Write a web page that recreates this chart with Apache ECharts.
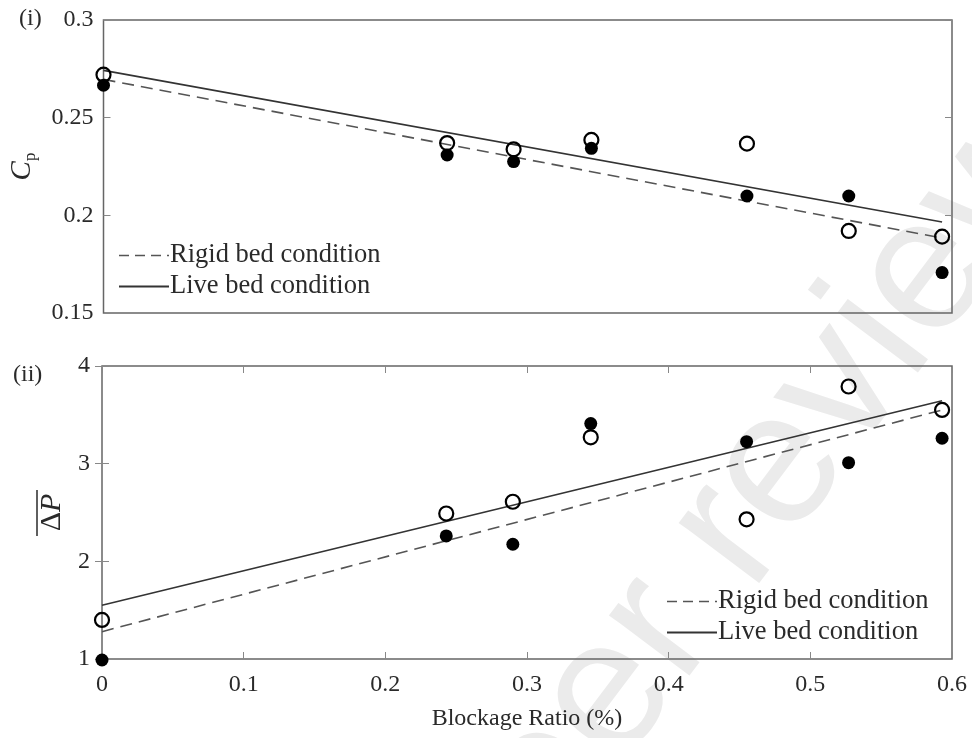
<!DOCTYPE html>
<html>
<head>
<meta charset="utf-8">
<script src="https://cdn.jsdelivr.net/npm/echarts@6/dist/echarts.min.js"></script>
<style>
  html, body { margin: 0; padding: 0; background: #fff; }
  #main { width: 972px; height: 738px; }
</style>
</head>
<body>
<div id="main"></div>
<script>
// blockage ratio (%) of each test
var blockage = [0, 0.243, 0.29, 0.345, 0.455, 0.527, 0.593];

// (i) power coefficient
var cpOpen   = [0.272, 0.237, 0.2338, 0.2386, 0.2367, 0.192, 0.1891];
var cpFilled = [0.2666, 0.2309, 0.2275, 0.2343, 0.2099, 0.2099, 0.1707];
var cpRigidFit = [[0, 0.2696], [0.593, 0.1884]];
var cpLiveFit  = [[0, 0.2742], [0.593, 0.1966]];

// (ii) mean pressure drop
var dpOpen   = [1.40, 2.49, 2.61, 3.27, 2.43, 3.79, 3.55];
var dpFilled = [0.99, 2.26, 2.175, 3.41, 3.225, 3.01, 3.26];
var dpRigidFit = [[0, 1.28], [0.593, 3.55]];
var dpLiveFit  = [[0, 1.55], [0.593, 3.645]];

var RIGID = 'Rigid bed condition';
var LIVE = 'Live bed condition';

var SERIF = 'Liberation Serif, Times New Roman, serif';
var TEXT_COLOR = '#2a2a2a';
var FRAME_COLOR = '#666';
var TICK_COLOR = '#888';

function pairs(xs, ys) {
    var out = [];
    for (var i = 0; i < xs.length; i++) {
        out.push([xs[i], ys[i]]);
    }
    return out;
}

var chartDom = document.getElementById('main');
var myChart = echarts.init(chartDom);

var labelStyle = {
    fontFamily: SERIF,
    fontSize: 24,
    color: TEXT_COLOR
};

function tickAxis(gridIndex, position, showTicks) {
    return {
        type: 'value',
        gridIndex: gridIndex,
        position: position,
        axisLine: { show: false },
        axisTick: { show: showTicks, inside: true, length: 7, lineStyle: { color: TICK_COLOR, width: 1 } },
        axisLabel: { show: false },
        splitLine: { show: false }
    };
}

var xTop = tickAxis(0, 'bottom', false);
xTop.min = 0; xTop.max = 0.6; xTop.interval = 0.1;

var xBottom = tickAxis(1, 'bottom', true);
xBottom.min = 0; xBottom.max = 0.6; xBottom.interval = 0.1;
xBottom.axisLabel = Object.assign({ show: true, margin: 14 }, labelStyle);
xBottom.name = 'Blockage Ratio (%)';
xBottom.nameLocation = 'middle';
xBottom.nameGap = 48;
xBottom.nameTextStyle = labelStyle;

var xBottomMirror = tickAxis(1, 'top', true);
xBottomMirror.min = 0; xBottomMirror.max = 0.6; xBottomMirror.interval = 0.1;

var yCp = tickAxis(0, 'left', true);
yCp.min = 0.15; yCp.max = 0.3; yCp.interval = 0.05;
yCp.axisLabel = Object.assign({ show: true, margin: 10 }, labelStyle);
yCp.name = '{c|C}{p|p}';
yCp.nameLocation = 'middle';
yCp.nameGap = 64;
yCp.nameTextStyle = {
    rich: {
        c: { fontFamily: SERIF, fontStyle: 'italic', fontSize: 29, color: TEXT_COLOR, lineHeight: 34 },
        p: { fontFamily: SERIF, fontSize: 17, color: TEXT_COLOR, verticalAlign: 'bottom', lineHeight: 34 }
    }
};

var yCpMirror = tickAxis(0, 'right', true);
yCpMirror.min = 0.15; yCpMirror.max = 0.3; yCpMirror.interval = 0.05;

var yDp = tickAxis(1, 'left', true);
yDp.min = 1; yDp.max = 4; yDp.interval = 1;
yDp.axisLabel = Object.assign({ show: true, margin: 12 }, labelStyle);
yDp.name = '{d|\u0394}{p|P}';
yDp.nameLocation = 'middle';
yDp.nameGap = 30;
yDp.nameTextStyle = {
    rich: {
        d: { fontFamily: SERIF, fontSize: 30, color: TEXT_COLOR },
        p: { fontFamily: SERIF, fontStyle: 'italic', fontSize: 30, color: TEXT_COLOR }
    }
};

var yDpMirror = tickAxis(1, 'right', true);
yDpMirror.min = 1; yDpMirror.max = 4; yDpMirror.interval = 1;

function fitLine(name, data, xi, yi, dashed) {
    return {
        name: name,
        type: 'line',
        xAxisIndex: xi,
        yAxisIndex: yi,
        data: data,
        symbol: 'none',
        silent: true,
        z: 2,
        itemStyle: { color: 'rgba(0,0,0,0)' },
        lineStyle: {
            color: dashed ? '#555' : '#333',
            width: 1.6,
            type: dashed ? [12, 7] : 'solid'
        }
    };
}

function dots(data, xi, yi, filled) {
    return {
        type: 'scatter',
        xAxisIndex: xi,
        yAxisIndex: yi,
        data: data,
        clip: false,
        symbol: 'circle',
        symbolSize: filled ? 13 : 14,
        z: filled ? 4 : 3,
        itemStyle: filled
            ? { color: '#000', opacity: 1 }
            : { color: 'rgba(255,255,255,0)', borderColor: '#000', borderWidth: 2.2, opacity: 1 }
    };
}

function legendAt(left, top) {
    return {
        orient: 'vertical',
        left: left,
        top: top,
        data: [
            { name: RIGID, lineStyle: { type: [10, 6], color: '#555', width: 1.6 } },
            { name: LIVE }
        ],
        itemWidth: 50,
        itemHeight: 12,
        itemGap: 4,
        padding: 0,
        selectedMode: false,
        itemStyle: { opacity: 0 },
        textStyle: { fontFamily: SERIF, fontSize: 26.5, color: TEXT_COLOR, padding: [0, 0, 0, -4] }
    };
}

var option = {
    animation: false,
    backgroundColor: '#fff',
    grid: [
        { left: 102, right: 20, top: 20, height: 293, show: true, borderColor: FRAME_COLOR, borderWidth: 1.5, backgroundColor: 'transparent' },
        { left: 102, right: 20, top: 366, height: 293, show: true, borderColor: FRAME_COLOR, borderWidth: 1.5, backgroundColor: 'transparent' }
    ],
    legend: [legendAt(118, 242), legendAt(666, 588)],
    xAxis: [xTop, xBottom, xBottomMirror],
    yAxis: [yCp, yCpMirror, yDp, yDpMirror],
    graphic: [
        {
            // faint review watermark behind the plots
            type: 'text',
            z: -10,
            silent: true,
            x: 738, y: 524,
            rotation: 0.925,
            style: {
                text: 'Peer review',
                fontFamily: 'Liberation Sans, Arial, sans-serif',
                fontSize: 190,
                fill: '#ebebeb',
                textAlign: 'center',
                textVerticalAlign: 'middle'
            }
        },
        {
            type: 'text', left: 19, top: 7,
            style: { text: '(i)', fontFamily: SERIF, fontSize: 24, fill: TEXT_COLOR }
        },
        {
            type: 'text', left: 13, top: 363,
            style: { text: '(ii)', fontFamily: SERIF, fontSize: 24, fill: TEXT_COLOR }
        },
        {
            // overline of the pressure-drop symbol
            type: 'line',
            shape: { x1: 37, y1: 490, x2: 37, y2: 536 },
            style: { stroke: TEXT_COLOR, lineWidth: 1.5 }
        }
    ],
    series: [
        fitLine(RIGID, cpRigidFit, 0, 0, true),
        fitLine(LIVE, cpLiveFit, 0, 0, false),
        dots(pairs(blockage, cpOpen), 0, 0, false),
        dots(pairs(blockage, cpFilled), 0, 0, true),
        fitLine(RIGID, dpRigidFit, 1, 2, true),
        fitLine(LIVE, dpLiveFit, 1, 2, false),
        dots(pairs(blockage, dpOpen), 1, 2, false),
        dots(pairs(blockage, dpFilled), 1, 2, true)
    ]
};

myChart.setOption(option);
</script>
</body>
</html>
